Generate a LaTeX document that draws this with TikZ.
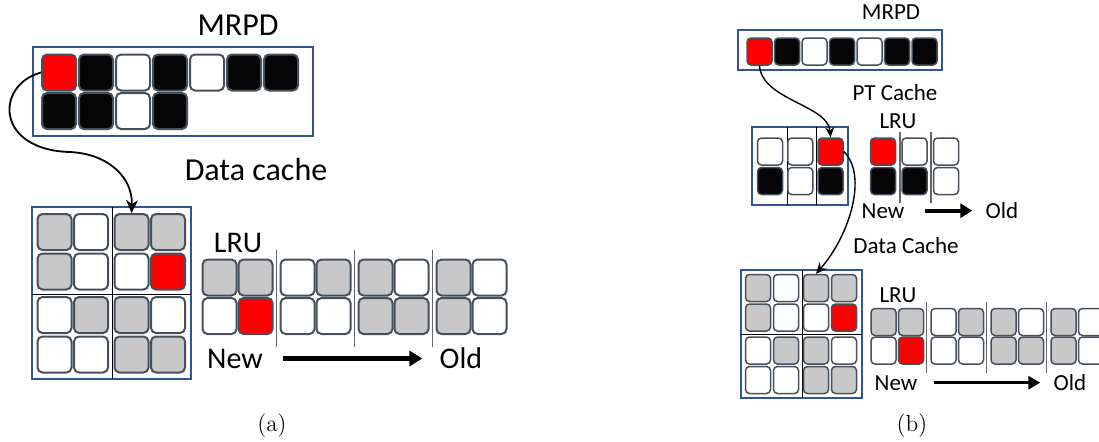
\documentclass[tikz,border=0pt]{standalone}
\usepackage{fontspec}
\setsansfont{Carlito}
\usetikzlibrary{arrows.meta}
\definecolor{boxblue}{HTML}{2F5597}
\definecolor{celledge}{HTML}{46505C}
\definecolor{cellgray}{HTML}{C8C8C8}
\definecolor{cellblack}{HTML}{050505}
\definecolor{lrudiv}{HTML}{666666}
\tikzset{
  cell/.style={rectangle, rounded corners=2.5pt, draw=celledge, line width=1pt, inner sep=0pt},
  cella/.style={cell, minimum width=17pt, minimum height=18pt},
  cellb/.style={cell, rounded corners=2pt, line width=0.75pt, minimum width=12.5pt, minimum height=13.5pt},
  cellW/.style={fill=white},
  cellG/.style={fill=cellgray},
  cellB/.style={fill=cellblack},
  cellR/.style={fill=red},
  frame/.style={draw=boxblue, line width=0.8pt},
  divider/.style={draw=black, line width=0.5pt},
  lrudivider/.style={draw=lrudiv, line width=0.6pt},
  curvearrow/.style={line width=0.9pt, -{Stealth[length=6.5pt, width=6pt]}}
}

\begin{document}
\begin{tikzpicture}[
            x=0.5pt, y=-0.5pt,
            every node/.style={inner sep=0pt},
            % Definición de estilos de textos
            labela/.style={font=\sffamily\fontsize{16}{19}\selectfont, anchor=base},
            labelb/.style={font=\sffamily\fontsize{11.5}{14}\selectfont, anchor=base},
            capt/.style={font=\fontsize{11.7}{14}\selectfont, anchor=base},
            lruarrow/.style={line width=2.5pt, -{Triangle[length=6.5pt, width=7.5pt]}}
        ]
            \useasboundingbox (0,0) rectangle (1099,441);
            \clip (0,0) rectangle (1099,441);

            % ===================== (a) =====================
            % --- MRPD ---
            \node (mrpda) [labela] at (238,35) {MRPD};
            \draw [frame] (33,47) rectangle (313,136);
            \foreach \c [count=\i] in {R,B,W,B,W,B,B}
              \node (ma\i) [cella, cell\c] at ({59+37*(\i-1)},72.5) {};
            \foreach \c [count=\i] in {B,B,W,B}
              \node (mb\i) [cella, cell\c] at ({59+37*(\i-1)},111) {};

            % --- Data cache ---
            \node (dcla) [labela] at (256,180) {Data cache};
            \draw [frame] (32,207) rectangle (191,379);
            \draw [divider] (112,207) -- (112,379);
            \draw [divider] (32,294) -- (191,294);
            \foreach \row [count=\r] in {{G,W,G,G},{G,W,W,R},{W,G,G,W},{W,W,G,G}}
              \foreach \c [count=\k] in \row
                \node (dc\r\k) [cella, cell\c] at ({54.5+36.5*(\k-1)+4*int(\k/3)},{232+39.5*(\r-1)+4*int(\r/3)}) {};

            % --- LRU ---
            \node (lrua) [labela, font=\sffamily\fontsize{15}{18}\selectfont] at (238,252) {LRU};
            \foreach \row [count=\r] in {{G,G,W,G,G,W,G,W},{W,R,W,W,G,G,G,W}}
              \foreach \c [count=\k] in \row
                \node (la\r\k) [cella, cell\c] at ({219.5+36*mod(\k-1,2)+78*int((\k-1)/2)},{277.5+38.5*(\r-1)}) {};
            \foreach \x in {276.5,354.5,432.5}
              \draw [lrudivider] (\x,250) -- (\x,347);
            \node (newa) [labela, font=\sffamily\fontsize{15}{18}\selectfont] at (235,368) {New};
            \node (olda) [labela, font=\sffamily\fontsize{15}{18}\selectfont] at (461,368) {Old};
            \draw [lruarrow, shorten <=10pt, shorten >=8.5pt] (newa.east) -- (olda.west |- newa.east);

            % --- Conexión ---
            \draw [curvearrow] (ma1.west) .. controls (-5,85) and (-5,150) .. (70,152)
                                          .. controls (110,154) and (133,179) .. (dc13.north);

            \node (capa) [capt] at (272,431) {(a)};

            % ===================== (b) =====================
            % --- MRPD ---
            \node (mrpdb) [labelb] at (891,19) {MRPD};
            \draw [frame] (738,30) rectangle (942,70);
            \foreach \c [count=\i] in {R,B,W,B,W,B,B}
              \node (mc\i) [cellb, cell\c] at ({759.5+27.5*(\i-1)},51.5) {};

            % --- PT Cache ---
            \node (ptlb) [labelb] at (895,100) {PT Cache};
            \node (lrub) [labelb] at (898,128) {LRU};
            \draw [frame] (752,127) rectangle (848,205);
            \foreach \x in {787,816}
              \draw [divider] (\x,127) -- (\x,205);
            \foreach \row [count=\r] in {{W,W,R},{B,W,B}}
              \foreach \c [count=\k] in \row
                \node (pc\r\k) [cellb, cell\c] at ({770+30.25*(\k-1)},{151.5+29.5*(\r-1)}) {};
            \foreach \row [count=\r] in {{R,W,W},{B,B,W}}
              \foreach \c [count=\k] in \row
                \node (pl\r\k) [cellb, cell\c] at ({883+31.5*(\k-1)},{151.5+29.5*(\r-1)}) {};
            \foreach \x in {900,931}
              \draw [lrudivider] (\x,132) -- (\x,203);
            \node (newb) [labelb] at (883,218) {New};
            \node (oldb) [labelb] at (1002,218) {Old};
            \draw [lruarrow, line width=2pt, -{Triangle[length=6pt, width=7pt]}, shorten <=10pt, shorten >=6.5pt] (newb.east) -- (oldb.west |- newb.east);

            % --- Data Cache ---
            \node (dclb) [labelb] at (906,253) {Data Cache};
            \draw [frame] (741,270) rectangle (862,398);
            \draw [divider] (802,270) -- (802,398);
            \draw [divider] (741,334) -- (862,334);
            \foreach \row [count=\r] in {{G,W,G,G},{G,W,W,R},{W,G,G,W},{W,W,G,G}}
              \foreach \c [count=\k] in \row
                \node (dd\r\k) [cellb, cell\c] at ({758+28*(\k-1)+2*int(\k/3)},{288+29.5*(\r-1)+3.5*int(\r/3)}) {};

            % --- LRU ---
            \node (lruc) [labelb] at (898,302) {LRU};
            \foreach \row [count=\r] in {{G,G,W,G,G,W,G,W},{W,R,W,W,G,G,G,W}}
              \foreach \c [count=\k] in \row
                \node (lb\r\k) [cellb, cell\c] at ({883.5+27.5*mod(\k-1,2)+60*int((\k-1)/2)},{322+28.5*(\r-1)}) {};
            \foreach \x in {926.5,986.5,1046.5}
              \draw [lrudivider] (\x,302) -- (\x,373);
            \node (newc) [labelb] at (896,390) {New};
            \node (oldc) [labelb] at (1070,390) {Old};
            \draw [lruarrow, line width=1.5pt, -{Triangle[length=6pt, width=6.5pt]}, shorten <=8pt, shorten >=6.5pt] (newc.east) -- (oldc.west |- newc.east);

            % --- Conexiones ---
            \draw [curvearrow, line width=0.7pt, -{Stealth[length=5pt, width=4.5pt]}] (mc1.south) .. controls (762,100) and (828,105) .. (pc13.north);
            \draw [curvearrow, line width=0.7pt, -{Stealth[length=5.5pt, width=5pt]}] (pc13.east) .. controls (868,175) and (850,235) .. (dd13.north);

            \node (capb) [capt] at (912,431) {(b)};

        \end{tikzpicture}
\end{document}
